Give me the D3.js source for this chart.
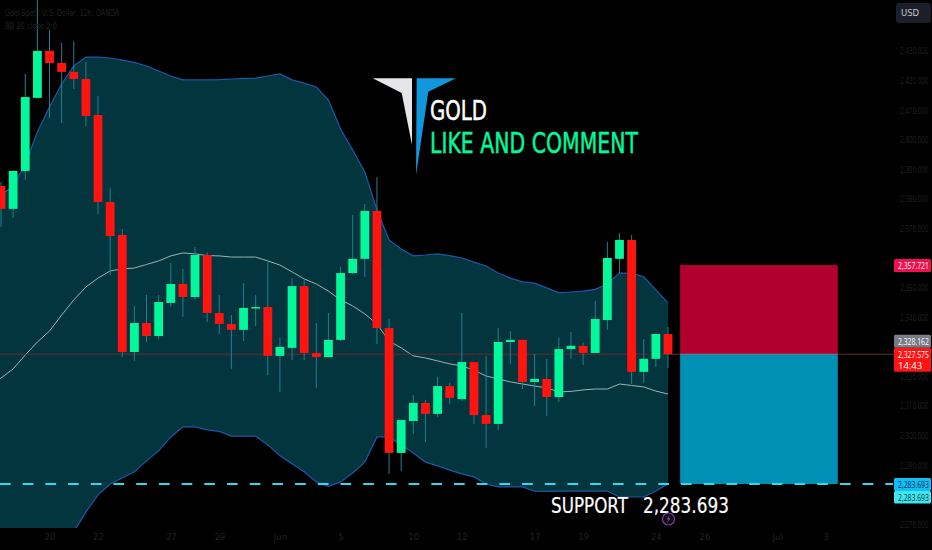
<!DOCTYPE html>
<html>
<head>
<meta charset="utf-8">
<title>GOLD</title>
<script src="https://cdnjs.cloudflare.com/ajax/libs/d3/7.8.5/d3.min.js"></script>
<style>
  html, body { margin: 0; background: #000; overflow: hidden; }
  svg { display: block; }
  text { font-family: "DejaVu Sans", sans-serif; }
  .faint text, text.faint { fill: #222222; font-size: 8.5px; }
  .tag { font-size: 9.5px; font-family: "Open Sans", sans-serif; }
</style>
</head>
<body>
<div id="chart"></div>
<script>
// candles, one per index
const opens = [2384.4,2376.7,2389.5,2414.2,2430.1,2426.0,2423.0,2420.6,2408.4,2379.0,2367.9,2328.3,2338.1,2333.7,2344.9,2351.3,2346.9,2361.1,2341.5,2337.8,2335.8,2343.2,2343.5,2327.0,2329.7,2350.6,2328.0,2326.6,2332.4,2355.0,2359.8,2376.0,2336.4,2294.2,2305.0,2311.1,2307.4,2316.8,2312.4,2324.9,2307.0,2304.0,2331.7,2332.4,2318.2,2319.2,2313.1,2329.3,2330.4,2328.0,2339.1,2359.8,2366.2,2321.6,2326.0,2334.4];
const closes = [2376.7,2389.5,2414.5,2430.1,2426.0,2423.0,2420.6,2408.1,2379.0,2367.5,2328.3,2338.1,2333.7,2345.2,2351.3,2346.9,2361.1,2341.5,2337.8,2335.8,2343.2,2343.5,2327.0,2330.0,2350.6,2328.0,2326.6,2332.4,2355.0,2359.8,2376.0,2336.4,2294.2,2305.3,2311.1,2307.4,2316.8,2312.8,2324.9,2307.0,2304.0,2331.7,2332.4,2318.2,2319.2,2313.1,2329.3,2330.4,2328.0,2339.5,2360.1,2366.2,2321.6,2326.0,2334.4,2327.575];
const highs = [2385.8,2389.8,2422.3,2450.0,2437.2,2432.8,2433.4,2426.3,2414.9,2383.8,2369.9,2343.9,2347.6,2347.6,2358.4,2356.4,2363.8,2362.1,2347.6,2340.8,2351.6,2347.6,2358.7,2333.1,2353.3,2352.7,2338.1,2341.5,2357.1,2374.6,2378.3,2387.5,2339.5,2305.6,2313.8,2312.1,2319.9,2317.9,2341.5,2324.9,2327.0,2336.4,2335.4,2332.4,2327.7,2326.0,2333.1,2335.1,2331.4,2345.6,2365.5,2368.5,2367.9,2332.7,2334.4,2336.8];
const lows = [2370.6,2373.6,2386.5,2414.2,2407.4,2405.7,2417.2,2404.7,2375.0,2354.4,2326.6,2325.3,2331.7,2332.7,2343.5,2340.2,2345.9,2338.5,2334.4,2322.6,2332.0,2337.1,2320.5,2314.8,2325.6,2325.6,2316.2,2326.3,2332.0,2354.7,2353.7,2331.0,2287.1,2288.1,2300.6,2297.9,2306.3,2310.8,2311.8,2304.0,2295.9,2302.0,2324.3,2315.8,2310.1,2306.7,2311.4,2326.0,2323.9,2328.0,2335.8,2355.0,2317.5,2317.9,2323.3,2322.9];

// bollinger bands start one index before the first visible candle
const bandStart = -1;
const bbUpper = [2378.0,2381.4,2384.4,2391.9,2402.7,2411.1,2418.9,2425.0,2428.0,2428.0,2427.7,2427.0,2426.2,2425.0,2423.3,2421.6,2420.3,2420.3,2420.3,2420.4,2420.6,2420.8,2420.9,2421.6,2422.3,2420.3,2419.2,2417.9,2413.5,2403.7,2396.6,2389.2,2376.3,2366.2,2363.1,2360.8,2361.1,2361.5,2360.9,2360.1,2358.7,2357.4,2355.0,2353.3,2352.0,2351.6,2350.0,2348.3,2348.6,2348.9,2349.5,2351.3,2355.0,2355.0,2353.7,2349.3,2344.9];
const bbMid = [2317.2,2319.5,2322.6,2327.3,2331.7,2335.4,2340.8,2345.9,2350.3,2353.3,2355.7,2356.4,2356.7,2357.9,2359.1,2360.8,2361.8,2361.5,2360.9,2360.8,2360.4,2360.4,2360.4,2359.1,2357.7,2355.4,2353.0,2351.3,2348.9,2345.9,2343.9,2341.2,2337.8,2332.0,2329.7,2327.0,2326.3,2325.3,2324.3,2323.6,2322.2,2320.2,2319.2,2318.2,2317.5,2316.8,2316.2,2314.8,2315.0,2315.5,2315.8,2315.8,2317.5,2317.0,2316.5,2315.1,2314.1];
const bbLower = [2231.0,2234.4,2237.7,2241.1,2246.2,2253.0,2261.4,2267.5,2274.2,2280.0,2283.7,2285.7,2287.8,2291.5,2294.9,2299.6,2303.0,2303.0,2302.0,2301.5,2299.9,2299.9,2299.9,2296.9,2293.2,2290.5,2287.8,2284.4,2282.9,2284.4,2287.4,2291.1,2299.6,2299.6,2296.9,2294.2,2291.1,2289.8,2288.4,2287.1,2286.1,2283.7,2282.7,2282.7,2282.7,2281.3,2281.2,2281.3,2281.3,2281.3,2281.3,2281.3,2279.3,2279.3,2279.3,2281.3,2283.7];

// axis ticks, the ones hidden behind price tags are left out
const priceTicks = [2270,2290,2300,2310,2320,2340,2350,2370,2380,2390,2400,2410,2420,2430];
const timeTickIdx = [4,8,14,18,23,28,34,38,44,48,54,58,64,68];
const timeTickLabels = ['20','22','27','29','Jun','5','10','12','17','19','24','26','Jul','3'];

// long position tool and price levels
const entryPrice = 2327.575;
const stopPrice = 2357.721;
const targetPrice = 2283.693;
const toolStartIdx = 56;
const toolEndIdx = 69;

// price tags on the right hand scale
const tagTexts = ['2,357.721', '2,328.162', '2,327.575', '2,283.693', '2,283.693'];
const tagAnchors = [stopPrice, entryPrice, entryPrice, targetPrice, targetPrice];
const tagFills = ['#f0104e', '#787b86', '#ff1414', '#12bdf8', '#3fe6f0'];
const tagInk = ['#ffffff', '#ffffff', '#ffffff', '#06323f', '#06323f'];

const width = 932;
const height = 550;
const paneW = 893;
const paneH = 528;

const xScale = d3.scaleLinear().domain([0, 55]).range([1, 668]);
const yScale = d3.scaleLinear().domain([targetPrice, stopPrice]).range([484, 265]);

const svg = d3.select('#chart').append('svg')
  .attr('width', width)
  .attr('height', height);

svg.append('clipPath').attr('id', 'pane')
  .append('rect').attr('width', paneW).attr('height', paneH);

const pane = svg.append('g').attr('clip-path', 'url(#pane)');

// bands
const bandIdx = d3.range(bbUpper.length).map(i => i + bandStart);

const bandArea = d3.area()
  .x(i => xScale(i))
  .y0(i => yScale(bbLower[i - bandStart]))
  .y1(i => yScale(bbUpper[i - bandStart]));

const bandLine = arr => d3.line()
  .x(i => xScale(i))
  .y(i => yScale(arr[i - bandStart]));

pane.append('path').datum(bandIdx)
  .attr('d', bandArea)
  .attr('fill', '#03353e');

pane.append('path').datum(bandIdx)
  .attr('d', bandLine(bbMid))
  .attr('fill', 'none')
  .attr('stroke', '#98b4b4')
  .attr('stroke-width', 1);

[bbUpper, bbLower].forEach(arr => {
  pane.append('path').datum(bandIdx)
    .attr('d', bandLine(arr))
    .attr('fill', 'none')
    .attr('stroke', '#1f57a8')
    .attr('stroke-width', 1.2);
});

// last price line, under the position tool
pane.append('line')
  .attr('x1', 0).attr('x2', paneW)
  .attr('y1', yScale(entryPrice)).attr('y2', yScale(entryPrice))
  .attr('stroke', '#6e2a2a')
  .attr('stroke-width', 1);

// position tool
pane.append('rect')
  .attr('x', xScale(toolStartIdx))
  .attr('y', yScale(stopPrice))
  .attr('width', xScale(toolEndIdx) - xScale(toolStartIdx))
  .attr('height', yScale(entryPrice) - yScale(stopPrice))
  .attr('fill', '#b1002e');

pane.append('rect')
  .attr('x', xScale(toolStartIdx))
  .attr('y', yScale(entryPrice))
  .attr('width', xScale(toolEndIdx) - xScale(toolStartIdx))
  .attr('height', yScale(targetPrice) - yScale(entryPrice))
  .attr('fill', '#0090b6');

pane.append('line')
  .attr('x1', xScale(toolStartIdx)).attr('x2', xScale(toolEndIdx))
  .attr('y1', yScale(entryPrice)).attr('y2', yScale(entryPrice))
  .attr('stroke', '#787b86')
  .attr('stroke-width', 1);

// candles
const idx = d3.range(opens.length);
const candleColor = i => closes[i] >= opens[i] ? '#03f79b' : '#ff1410';

pane.selectAll('.wick').data(idx).enter().append('line')
  .attr('class', 'wick')
  .attr('x1', i => xScale(i)).attr('x2', i => xScale(i))
  .attr('y1', i => yScale(highs[i])).attr('y2', i => yScale(lows[i]))
  .attr('stroke', '#21808c')
  .attr('stroke-width', 1);

pane.selectAll('.body').data(idx).enter().append('rect')
  .attr('class', 'body')
  .attr('x', i => xScale(i) - 4.4)
  .attr('width', 8.8)
  .attr('y', i => yScale(Math.max(opens[i], closes[i])))
  .attr('height', i => Math.max(1.5, Math.abs(yScale(opens[i]) - yScale(closes[i]))))
  .attr('fill', candleColor);

// support line
svg.append('line')
  .attr('x1', 0).attr('x2', paneW)
  .attr('y1', yScale(targetPrice)).attr('y2', yScale(targetPrice))
  .attr('stroke', '#33d8ee')
  .attr('stroke-width', 2.2)
  .attr('stroke-dasharray', '10.7 12');

// axes
const yAxis = d3.axisRight(yScale)
  .tickValues(priceTicks)
  .tickSize(0)
  .tickPadding(0)
  .tickFormat(d3.format(',.3f'));

const yAxisG = svg.append('g')
  .attr('class', 'faint')
  .attr('transform', 'translate(900, 0)')
  .call(yAxis);
yAxisG.select('.domain').remove();
// squeezed sideways, the scale column is narrow
yAxisG.selectAll('text')
  .attr('transform', 'scale(0.74, 1)')
  .attr('style', 'font-family:"Open Sans",sans-serif;font-size:8.5px');

const xAxis = d3.axisBottom(xScale)
  .tickValues(timeTickIdx)
  .tickSize(0)
  .tickPadding(0)
  .tickFormat((d, i) => timeTickLabels[i]);

const xAxisG = svg.append('g')
  .attr('class', 'faint')
  .attr('transform', 'translate(0, 534)')
  .call(xAxis);
xAxisG.select('.domain').remove();

// header
svg.append('text').attr('class', 'faint')
  .attr('x', 5).attr('y', 16)
  .attr('textLength', 114)
  .attr('lengthAdjust', 'spacingAndGlyphs')
  .text('Gold Spot / U.S. Dollar, 12h, OANDA');
svg.append('text').attr('class', 'faint')
  .attr('x', 5).attr('y', 29)
  .attr('textLength', 52)
  .attr('lengthAdjust', 'spacingAndGlyphs')
  .text('BB 20 close 2 0');

// logo
svg.append('polygon')
  .attr('points', '372.7,78.3 412,78.3 412,145 401.7,93')
  .attr('fill', '#e6e6e8');
svg.append('polygon')
  .attr('points', '416.7,78.3 456,78.3 428.3,91.7 416,175')
  .attr('fill', '#1197dd');

// captions
const caption = (txt, x, y, len, size, color) => svg.append('text')
  .attr('x', x).attr('y', y)
  .attr('textLength', len)
  .attr('lengthAdjust', 'spacingAndGlyphs')
  .attr('font-size', size)
  .attr('fill', color)
  .attr('stroke', color)
  .attr('stroke-width', 0.5)
  .text(txt);

caption('GOLD', 430, 120, 57, 26, '#ffffff');
caption('LIKE AND COMMENT', 430, 153, 208, 28, '#03f79b');
caption('SUPPORT', 551, 513, 77, 21, '#ffffff').attr('stroke-width', 0.2);
caption('2,283.693', 643, 513, 86, 21, '#ffffff').attr('stroke-width', 0.2);

// flash icon on the time line
svg.append('circle')
  .attr('cx', 668.5).attr('cy', 519).attr('r', 6)
  .attr('fill', '#0b0b12')
  .attr('stroke', '#7d3fa3')
  .attr('stroke-width', 1.2);
svg.append('path')
  .attr('d', 'M670,514.5 L666.5,519.5 L668.5,519.5 L667,523.5 L670.5,518.2 L668.5,518.2 Z')
  .attr('fill', '#7d3fa3');

// currency button
svg.append('rect')
  .attr('x', 896).attr('y', 3).attr('width', 35).attr('height', 20).attr('rx', 3)
  .attr('fill', '#1b1f2a');
svg.append('text')
  .attr('x', 901).attr('y', 16)
  .attr('font-size', 8.5)
  .attr('fill', '#c4c7cf')
  .text('USD');

// price tags, stacked so that they do not hide each other
const tagOffsets = [-6, -19.5, -6.5, -6, 7];
const tagHeights = [13, 13, 24, 13, 12.5];
const tagTop = i => yScale(tagAnchors[i]) + tagOffsets[i];

const tags = svg.selectAll('.tagbox').data(d3.range(tagTexts.length)).enter().append('g')
  .attr('class', 'tagbox');
tags.append('rect')
  .attr('x', 894).attr('width', 37)
  .attr('y', tagTop)
  .attr('height', i => tagHeights[i])
  .attr('rx', 1.5)
  .attr('fill', i => tagFills[i]);
tags.append('text')
  .attr('class', 'tag')
  .attr('transform', i => `translate(898, ${tagTop(i) + 10}) scale(0.72, 1)`)
  .attr('fill', i => tagInk[i])
  .text(i => tagTexts[i]);

svg.append('text')
  .attr('class', 'tag')
  .attr('x', 898).attr('y', yScale(entryPrice) + 15)
  .attr('fill', '#ffffff')
  .text('14:43');
</script>
</body>
</html>
